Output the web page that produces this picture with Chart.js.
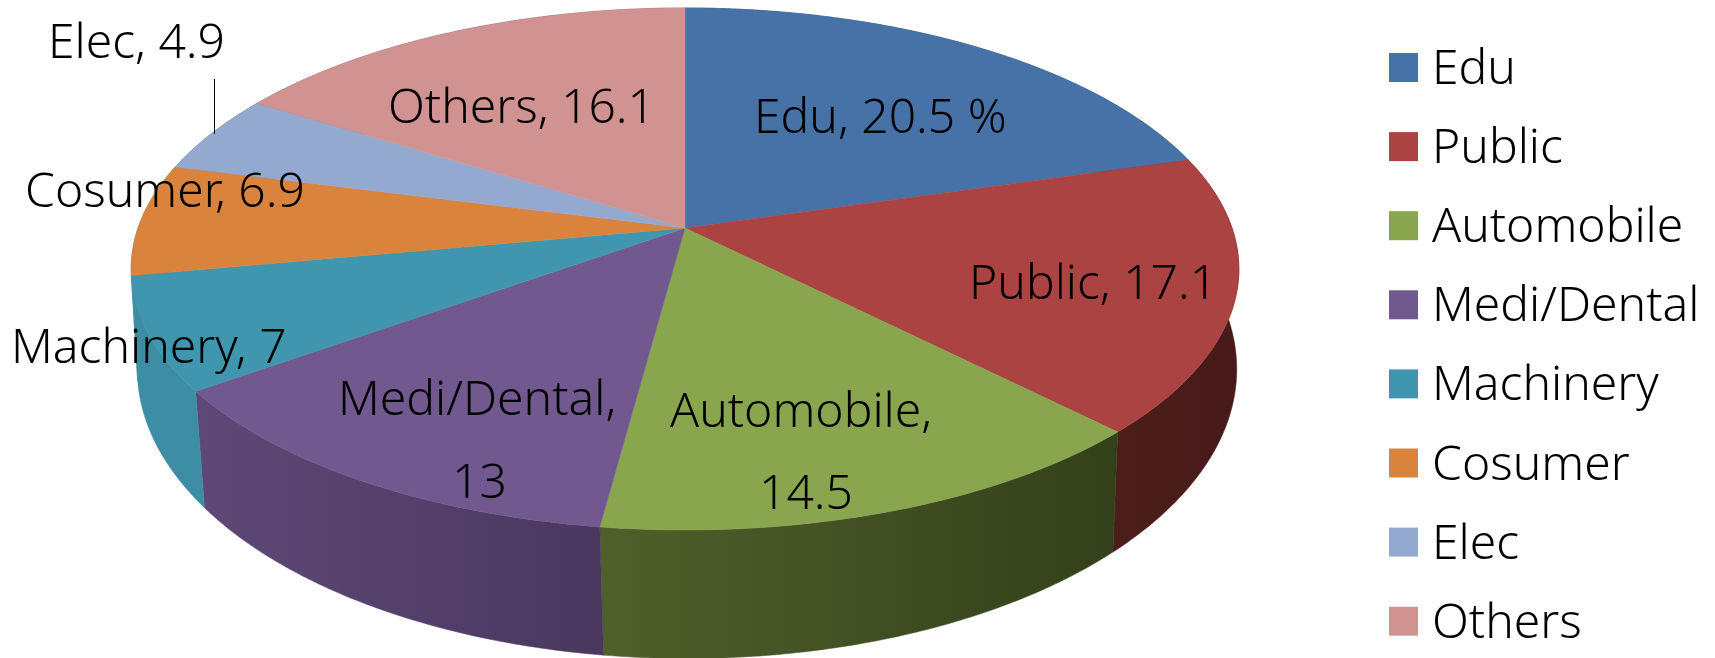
<!DOCTYPE html>
<html lang="en">
<head>
    <meta charset="UTF-8">
    <title>Pie 3D</title>
    <script src="https://cdn.jsdelivr.net/npm/chart.js"></script>
    <style>
        html, body { margin: 0; padding: 0; background: #fff; }
        canvas { display: block; }
    </style>
</head>
<body>
    <canvas id="pie" width="1715" height="658"></canvas>

    <script>
        // Data
        const categories = ['Edu', 'Public', 'Automobile', 'Medi/Dental', 'Machinery', 'Cosumer', 'Elec', 'Others'];
        const shares = [20.5, 17.1, 14.5, 13, 7, 6.9, 4.9, 16.1];

        const topColors = ['#4672a7', '#aa4341', '#89a54e', '#71588f', '#4196af', '#d9833c', '#93a9cf', '#d19392'];
        const wallLeft = ['#2c4766', '#4c1e19', '#50602b', '#5f4877', '#3d8da5', '#3d8da5', '#5f6e87', '#7f5a59'];
        const wallRight = ['#2c4766', '#47191a', '#33401a', '#4a385f', '#3d8da5', '#3d8da5', '#5f6e87', '#7f5a59'];

        // Text and where it sits: [left, baseline] per line
        const font = '"Noto Sans", "Open Sans", sans-serif';
        const fontSize = 48;
        const labelLines = [
            [`${categories[0]}, ${shares[0]} %`],
            [`${categories[1]}, ${shares[1]}`],
            [`${categories[2]},`, `${shares[2]}`],
            [`${categories[3]},`, `${shares[3]}`],
            [`${categories[4]}, ${shares[4]}`],
            [`${categories[5]}, ${shares[5]}`],
            [`${categories[6]}, ${shares[6]}`],
            [`${categories[7]}, ${shares[7]}`]
        ];
        const labelSpots = [
            [[754, 133]],
            [[969, 299]],
            [[670, 427], [759, 509]],
            [[338, 415], [452, 498]],
            [[11, 363]],
            [[25, 207]],
            [[48, 58]],
            [[388, 123]]
        ];

        // The disc in perspective: rim point = (a*cos, b*sin + c) / (1 + p*sin), around the apex
        const apex = { x: 685, y: 228 };
        const topRim = { a: 547, b: 254.6, c: 0, dx: 0, p: -0.157 };
        const bottomRim = { a: 544, b: 269, c: 99.5, dx: 2, p: -0.144 };

        function project(angle, rim) {
            const s = Math.sin(angle);
            const d = 1 + rim.p * s;
            return {
                x: apex.x + rim.dx + rim.a * Math.cos(angle) / d,
                y: apex.y + (rim.b * s + rim.c) / d
            };
        }

        function rimPoints(start, end, rim) {
            const steps = Math.max(2, Math.ceil((end - start) / 0.01));
            const pts = [];
            for (let i = 0; i <= steps; i++) {
                pts.push(project(start + (end - start) * i / steps, rim));
            }
            return pts;
        }

        const pie3d = {
            id: 'pie3d',
            // the arcs are drawn below from the angles Chart.js worked out
            beforeDatasetDraw() { return false; },
            afterDatasetsDraw(chart) {
                const ctx = chart.ctx;
                const arcs = chart.getDatasetMeta(0).data;

                // side wall
                arcs.forEach((arc, i) => {
                    const up = rimPoints(arc.startAngle, arc.endAngle, topRim);
                    const down = rimPoints(arc.startAngle, arc.endAngle, bottomRim).reverse();
                    const xs = up.map(p => p.x);
                    const grad = ctx.createLinearGradient(Math.min(...xs), 0, Math.max(...xs), 0);
                    grad.addColorStop(0, wallLeft[i]);
                    grad.addColorStop(1, wallRight[i]);
                    ctx.beginPath();
                    up.concat(down).forEach((p, k) => k ? ctx.lineTo(p.x, p.y) : ctx.moveTo(p.x, p.y));
                    ctx.closePath();
                    ctx.fillStyle = grad;
                    ctx.strokeStyle = grad;
                    ctx.lineWidth = 0.5;
                    ctx.fill();
                    ctx.stroke();
                });

                // top face
                arcs.forEach((arc, i) => {
                    ctx.beginPath();
                    ctx.moveTo(apex.x, apex.y);
                    rimPoints(arc.startAngle, arc.endAngle, topRim).forEach(p => ctx.lineTo(p.x, p.y));
                    ctx.closePath();
                    ctx.fillStyle = topColors[i];
                    ctx.strokeStyle = topColors[i];
                    ctx.lineWidth = 0.5;
                    ctx.fill();
                    ctx.stroke();
                });
            },
            afterDraw(chart) {
                const ctx = chart.ctx;
                ctx.save();
                ctx.font = `300 ${fontSize}px ${font}`;
                ctx.fillStyle = '#000';
                ctx.textBaseline = 'alphabetic';
                ctx.textAlign = 'left';

                // labels
                labelLines.forEach((lines, i) => {
                    lines.forEach((line, k) => {
                        ctx.fillText(line, labelSpots[i][k][0], labelSpots[i][k][1]);
                    });
                });

                // leader line of Elec
                ctx.strokeStyle = '#000';
                ctx.lineWidth = 1;
                ctx.beginPath();
                ctx.moveTo(214.5, 79);
                ctx.lineTo(214.5, 134);
                ctx.stroke();

                // legend
                categories.forEach((name, i) => {
                    const y = 53 + i * 79.1;
                    ctx.fillStyle = topColors[i];
                    ctx.fillRect(1389, y, 29, 29);
                    ctx.fillStyle = '#000';
                    ctx.fillText(name, 1432, y + 31);
                });
                ctx.restore();
            }
        };

        new Chart(document.getElementById('pie'), {
            type: 'pie',
            data: {
                labels: categories,
                datasets: [{ data: shares, backgroundColor: topColors, borderWidth: 0 }]
            },
            options: {
                responsive: false,
                animation: false,
                plugins: {
                    legend: { display: false },
                    tooltip: { enabled: false }
                }
            },
            plugins: [pie3d]
        });
    </script>
</body>
</html>
